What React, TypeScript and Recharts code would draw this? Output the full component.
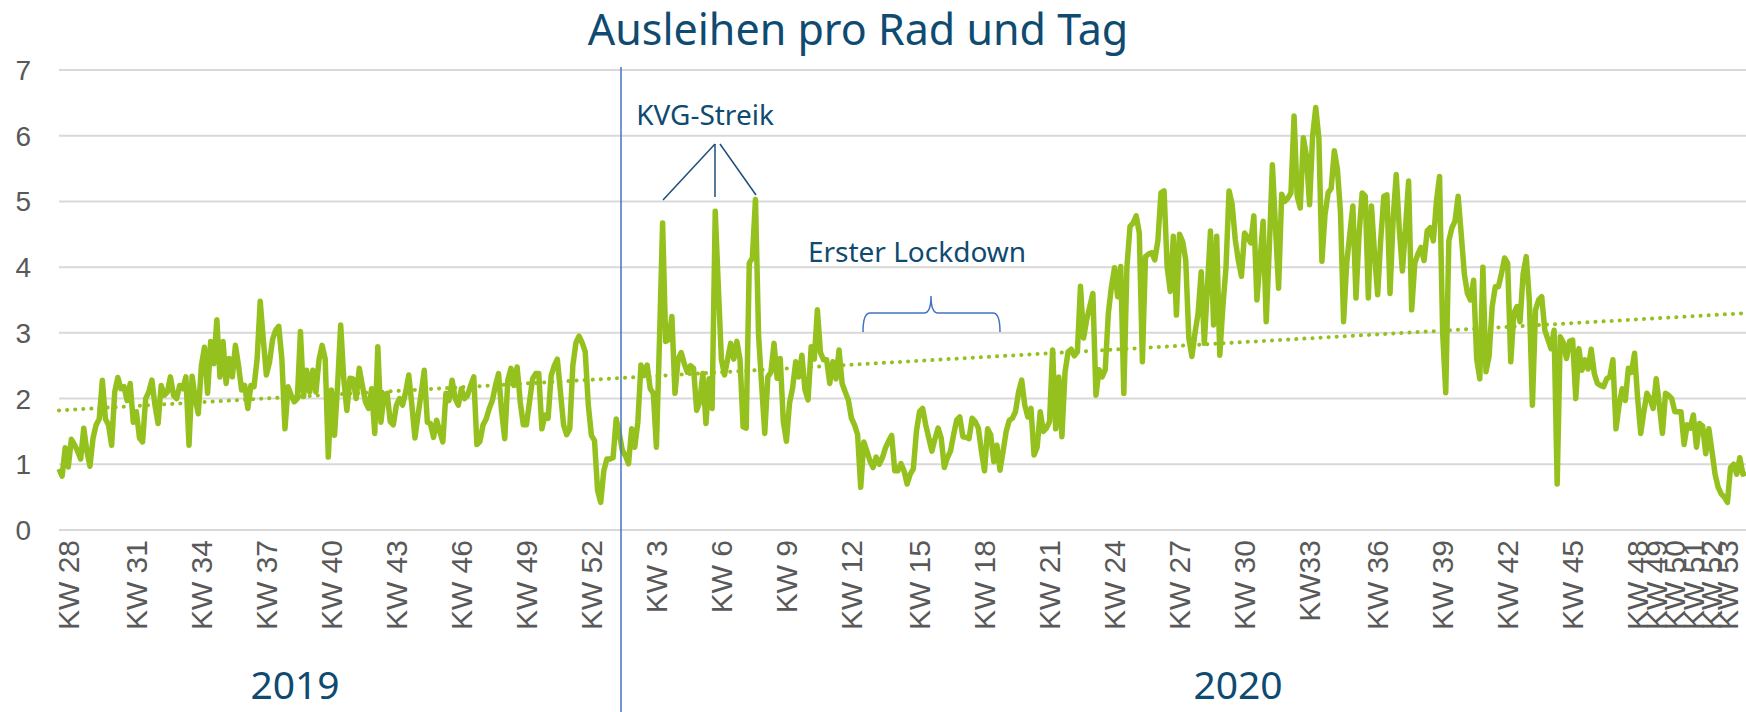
import React from 'react';
import { LineChart, Line, XAxis, YAxis, CartesianGrid, ReferenceLine } from 'recharts';

// Ausleihen pro Rad und Tag, ein Wert pro Tag
const sommer2019 = [
  0.93, 0.82, 1.25, 0.96, 1.38, 1.3, 1.2, 1.08, 1.55, 1.2,
  0.97, 1.4, 1.6, 1.69, 2.28, 1.69, 1.6, 1.29, 2.1, 2.32,
  2.15, 2.18, 1.97, 2.23, 1.64, 1.8, 1.4, 1.34, 2.0, 2.1,
  2.28, 1.9, 1.62, 2.2, 2.05, 2.1, 2.33, 2.05, 2.0, 2.2,
  2.15, 2.33, 1.29, 2.34, 2.0, 1.77, 2.5, 2.78, 2.08, 2.87,
  2.53, 3.2, 2.33, 2.87, 2.23, 2.61, 2.33, 2.81, 2.5, 2.13,
  2.2, 1.85, 2.2, 2.18, 2.6, 3.48, 2.9, 2.36, 2.55, 2.9,
  3.04, 3.1, 2.6, 1.54, 2.18, 2.05, 1.95, 2.0, 3.02, 2.03,
  2.43, 2.1, 2.43, 2.1, 2.59, 2.81, 2.6, 1.11, 2.13, 1.44,
  2.2, 3.12, 2.3, 1.82, 2.31, 2.3, 2.0, 2.46, 2.2, 1.95,
  1.85, 2.15, 1.47, 2.79, 1.64, 2.05, 2.08, 1.65,
];

const herbst2019 = [
  1.6, 1.9, 2.0, 1.9, 2.1, 2.36, 1.9, 1.4, 1.75, 2.08,
  2.43, 1.64, 1.62, 1.41, 1.67, 1.5, 1.34, 2.08, 1.97, 2.28,
  2.0, 1.9, 2.15, 2.0, 2.05, 2.2, 2.33, 1.3, 1.35, 1.6,
  1.69, 1.85, 1.97, 2.2, 2.38, 1.8, 1.39, 2.28, 2.46, 2.2,
  2.48, 1.95, 1.6, 1.6, 1.95, 2.3, 2.38, 2.38, 1.54, 1.75,
  1.7, 2.35, 2.5, 2.6, 2.1, 1.6, 1.45, 1.54, 2.5, 2.85,
  2.95, 2.85, 2.71, 1.9, 1.44, 1.36, 0.6, 0.42, 0.9, 1.08,
  1.08, 1.1, 1.69, 1.47, 1.21, 1.13, 1.01, 1.54, 1.26, 1.64,
  2.51, 2.35, 2.51, 2.15, 2.08, 1.26, 2.9, 4.67, 2.87, 2.9,
  3.25, 2.08, 2.6, 2.7, 2.53, 2.4, 2.5, 2.46, 1.82, 1.95,
  2.38, 1.62, 2.3, 1.85, 4.85, 3.7, 2.59, 2.36, 2.6, 2.84,
];

const fruehling2020 = [
  2.6, 2.87, 2.6, 1.57, 1.55, 4.06, 4.14, 5.03, 2.97, 2.2,
  1.47, 2.33, 2.4, 2.84, 2.31, 2.61, 1.65, 1.35, 1.93, 2.16,
  2.56, 2.33, 2.66, 2.13, 1.98, 2.79, 2.6, 3.35, 2.7, 2.59,
  2.59, 2.23, 2.56, 2.3, 2.74, 2.23, 2.1, 1.98, 1.7, 1.6,
  1.45, 0.65, 1.34, 1.2, 1.05, 0.95, 1.11, 1.0, 1.1, 1.25,
  1.35, 1.44, 0.9, 0.9, 1.01, 0.9, 0.7, 0.85, 0.93, 1.5,
  1.8, 1.85, 1.6, 1.4, 1.2, 1.39, 1.55, 1.4, 0.95, 1.1,
  1.2, 1.45, 1.67, 1.72, 1.42, 1.41, 1.39, 1.7, 1.65, 1.55,
  1.2, 0.9, 1.54, 1.45, 1.04, 1.29, 0.91, 1.2, 1.5, 1.67,
  1.7, 1.8, 2.1, 2.28, 1.9, 1.72, 1.85, 1.14, 1.26, 1.8,
  1.5, 1.55, 1.65, 2.74, 1.54, 2.33, 1.42, 2.4, 2.71, 2.75,
];

const sommer2020 = [
  2.65, 2.71, 3.71, 2.92, 3.2, 3.4, 3.6, 2.05, 2.44, 2.33,
  2.44, 3.3, 3.7, 3.99, 3.55, 4.01, 2.08, 4.0, 4.62, 4.67,
  4.78, 4.52, 2.56, 4.16, 4.2, 4.22, 4.11, 4.4, 5.13, 5.16,
  4.0, 3.63, 4.47, 3.27, 4.5, 4.39, 4.11, 2.92, 2.64, 3.0,
  3.3, 3.93, 2.84, 3.7, 4.55, 3.12, 4.47, 2.66, 3.4, 3.99,
  5.16, 4.95, 4.42, 4.1, 3.86, 4.52, 4.45, 4.37, 4.78, 3.5,
  4.1, 4.7, 3.17, 4.3, 5.56, 4.6, 3.68, 5.11, 5.0, 5.05,
  5.13, 6.3, 5.08, 4.9, 5.97, 5.69, 4.95, 6.0, 6.43, 5.97,
  4.09, 4.8, 5.13, 5.2, 5.77, 5.49, 4.83, 3.17, 4.06, 4.5,
  4.93, 3.53, 4.5, 5.13, 5.08, 3.53, 4.93, 4.2, 3.58, 4.42,
  5.08, 5.1, 3.6, 4.73, 5.41, 4.57, 3.94, 4.6, 5.31, 3.35,
];

const herbst2020 = [
  4.06, 4.2, 4.3, 4.1, 4.55, 4.6, 4.4, 5.0, 5.38, 3.0,
  2.09, 4.4, 4.6, 4.7, 5.08, 4.5, 3.9, 3.6, 3.5, 3.8,
  2.6, 2.3, 4.0, 2.41, 2.65, 3.4, 3.7, 3.7, 3.9, 4.14,
  4.06, 2.56, 3.3, 3.4, 3.17, 3.9, 4.16, 3.5, 1.9, 3.35,
  3.5, 3.55, 3.04, 2.9, 2.76, 3.04, 0.7, 2.94, 2.85, 2.61,
  2.87, 2.89, 2.0, 2.76, 2.43, 2.59, 2.45, 2.75, 2.38, 2.23,
  2.2, 2.18, 2.3, 2.33, 2.59, 1.54, 1.9, 2.15, 1.97, 2.46,
  2.4, 2.69, 2.0, 1.47, 1.8, 2.08, 2.0, 1.85, 2.3, 1.9,
  1.47, 2.08, 2.05, 2.0, 1.8, 1.8, 1.8, 1.3, 1.6, 1.55,
  1.75, 1.26, 1.62, 1.58, 1.16, 1.54, 1.2, 0.85, 0.65, 0.55,
  0.5, 0.42, 0.95, 1.0, 0.85, 1.1, 0.85, 0.87,
];

// Kalenderwochen-Beschriftung: Tag-Index und Text
const kwTage = [3, 25, 46, 67, 88, 109, 130, 151, 172, 193, 214, 235, 256, 278, 299, 320, 341, 362, 383, 404, 426, 447, 468, 489, 510, 516, 522, 528, 534, 539];
const kwLabels = [
  'KW 28', 'KW 31', 'KW 34', 'KW 37', 'KW 40', 'KW 43', 'KW 46', 'KW 49', 'KW 52',
  'KW 3', 'KW 6', 'KW 9', 'KW 12', 'KW 15', 'KW 18', 'KW 21', 'KW 24', 'KW 27', 'KW 30',
  'KW33', 'KW 36', 'KW 39', 'KW 42', 'KW 45', 'KW 48', 'KW 49', 'KW 50', 'KW 51', 'KW 52', 'KW 53',
];

const yTicks = [0, 1, 2, 3, 4, 5, 6, 7];

// lineare Trendlinie (Anfangs- und Endwert)
const trendStart = 1.82;
const trendEnde = 3.3;

const ausleihen = [...sommer2019, ...herbst2019, ...fruehling2020, ...sommer2020, ...herbst2020];
const data = ausleihen.map((wert, tag) => ({ tag, wert }));
const letzterTag = ausleihen.length - 1;

const GREEN = '#95c11f';
const NAVY = '#0f4a70';
const BLUE = '#4472c4';
const GRAY = '#595959';

const KwTick = (props: any) => {
  const { x, y, payload } = props;
  const i = kwTage.indexOf(payload.value);
  return (
    <text
      x={x}
      y={y}
      transform={`rotate(-90 ${x} ${y})`}
      textAnchor="end"
      dominantBaseline="central"
      fontFamily="'Liberation Sans', Arial, sans-serif"
      fontSize={30}
      fill={GRAY}
    >
      {i >= 0 ? kwLabels[i] : ''}
    </text>
  );
};

export default function App() {
  return (
    <div style={{ position: 'absolute', left: 0, top: 0, width: 1746, height: 712, background: '#fff' }}>
      <LineChart width={1746} height={712} data={data} margin={{ top: 70, right: 0, bottom: 0, left: 0 }}>
        <CartesianGrid vertical={false} stroke="#d9d9d9" strokeWidth={2} />
        <XAxis
          dataKey="tag"
          type="number"
          domain={[0, letzterTag]}
          ticks={kwTage}
          interval={0}
          axisLine={false}
          tickLine={false}
          tickSize={0}
          tickMargin={10}
          height={182}
          tick={<KwTick />}
        />
        <YAxis
          type="number"
          domain={[0, 7]}
          ticks={yTicks}
          axisLine={false}
          tickLine={false}
          tickSize={0}
          tickMargin={28}
          width={59}
          tick={{ fontSize: 28, fill: GRAY, fontFamily: "'Liberation Sans', Arial, sans-serif" }}
        />
        <ReferenceLine
          segment={[{ x: 0, y: trendStart }, { x: letzterTag, y: trendEnde }]}
          stroke={GREEN}
          strokeWidth={4}
          strokeDasharray="0.1 8"
          strokeLinecap="round"
        />
        <Line
          type="linear"
          dataKey="wert"
          stroke={GREEN}
          strokeWidth={5.5}
          strokeLinejoin="round"
          dot={false}
          activeDot={false}
          isAnimationActive={false}
        />
      </LineChart>

      <svg width={1746} height={712} style={{ position: 'absolute', left: 0, top: 0, pointerEvents: 'none' }}>
        <g fontFamily="'Noto Sans', 'Open Sans', sans-serif" fill={NAVY}>
          <text x={858} y={45} fontSize={43} textAnchor="middle">Ausleihen pro Rad und Tag</text>
          <text x={705} y={125} fontSize={28} textAnchor="middle">KVG-Streik</text>
          <text x={917} y={262} fontSize={28} textAnchor="middle">Erster Lockdown</text>
          <text x={295} y={699} fontSize={39} textAnchor="middle">2019</text>
          <text x={1238} y={699} fontSize={39} textAnchor="middle">2020</text>
        </g>
        <line x1={621} y1={67} x2={621} y2={712} stroke={BLUE} strokeWidth={1.5} />
        <g stroke="#1f4e79" strokeWidth={1.5}>
          <line x1={715} y1={144} x2={663} y2={200} />
          <line x1={715} y1={144} x2={715} y2={197} />
          <line x1={720} y1={144} x2={756} y2={195} />
        </g>
        <path
          d="M 863 332 Q 863 313 870 313 L 924 313 Q 931 313 931 296 Q 931 313 938 313 L 993 313 Q 1000 313 1000 332"
          fill="none"
          stroke={BLUE}
          strokeWidth={1.5}
        />
      </svg>
    </div>
  );
}
